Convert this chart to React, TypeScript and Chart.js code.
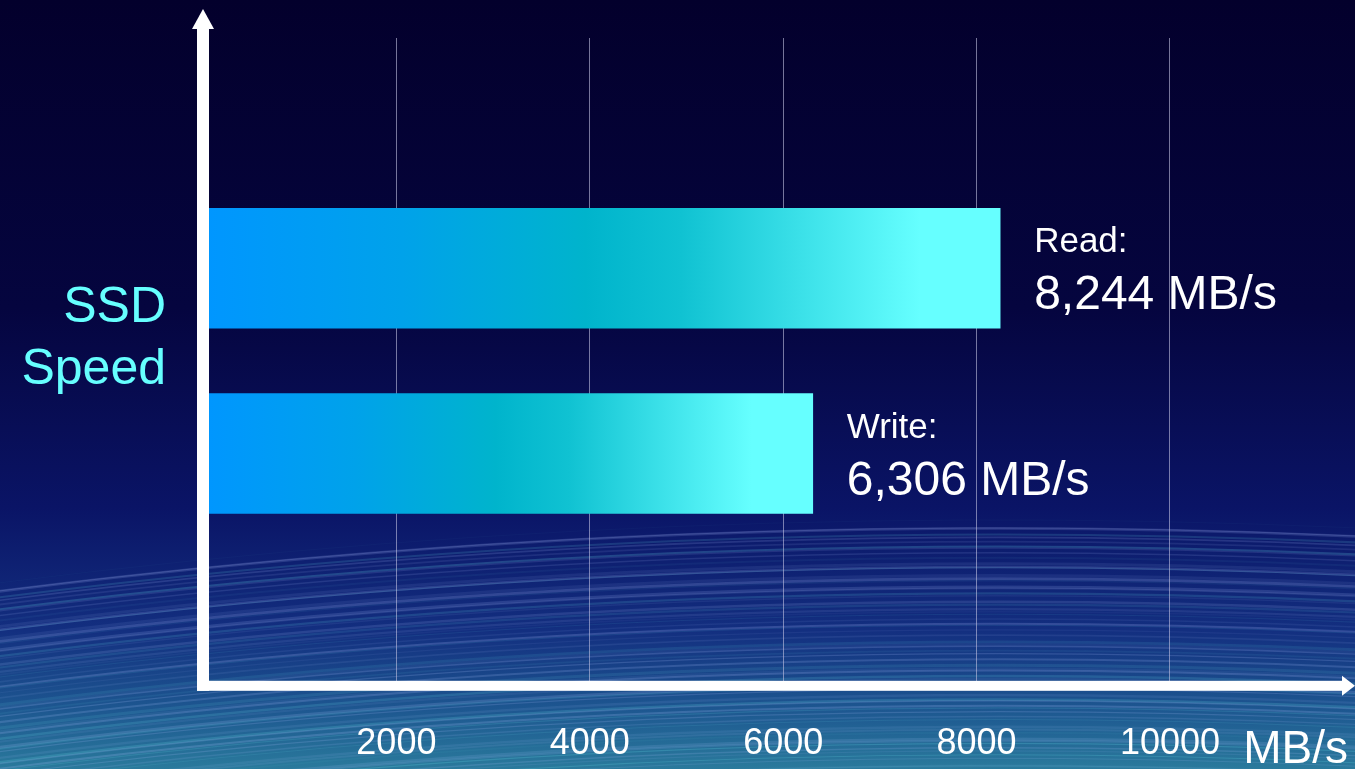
import React, { useEffect, useRef } from 'react';
import { Chart, registerables } from 'chart.js';

Chart.register(...registerables);

// ---- data ----
const CATEGORIES = ['Read', 'Write'];
const SPEEDS = [8244, 6306];
const X_TICKS = [2000, 4000, 6000, 8000, 10000];
const X_MIN = 0;
const X_MAX = 11800;
const UNIT = 'MB/s';
const Y_TITLE = ['SSD', 'Speed'];

const FONT = '"Liberation Sans", Arial, Helvetica, sans-serif';

const frac = (v: number) => v - Math.floor(v);

function drawBackground(ctx: CanvasRenderingContext2D, w: number, h: number) {
  const g = ctx.createLinearGradient(0, 0, 0, h);
  g.addColorStop(0, '#03002c');
  g.addColorStop(0.4, '#05053f');
  g.addColorStop(0.66, '#0a1466');
  g.addColorStop(0.82, '#132f80');
  g.addColorStop(0.92, '#1d5690');
  g.addColorStop(1, '#2a7a9c');
  ctx.fillStyle = g;
  ctx.fillRect(0, 0, w, h);

  const cx = 1000;
  const R = 8000;
  for (let i = 0; i < 70; i++) {
    const f1 = frac(Math.sin(i * 12.9898) * 43758.5453);
    const f2 = frac(Math.sin(i * 78.233) * 12345.678);
    const top = 520 + i * 3.9 + f1 * 5;
    const alpha = 0.04 + f2 * 0.18;
    ctx.strokeStyle = i % 3 === 0 ? `rgba(110,225,235,${alpha})` : `rgba(175,195,255,${alpha})`;
    ctx.lineWidth = 0.8 + f1 * 2.2;
    ctx.beginPath();
    ctx.arc(cx, top + R, R, -Math.PI / 2 - Math.asin(1100 / R), -Math.PI / 2 + Math.asin(450 / R));
    ctx.stroke();
  }
}

const decoPlugin = {
  id: 'deco',
  beforeDraw(chart: any) {
    const { ctx, width, height } = chart;
    ctx.save();
    drawBackground(ctx, width, height);
    ctx.restore();
  },
  afterDraw(chart: any) {
    const { ctx, chartArea: a } = chart;
    const x0 = a.left;
    const yb = a.bottom;
    ctx.save();
    ctx.fillStyle = '#ffffff';
    // vertical axis + arrow
    ctx.fillRect(x0 - 6, a.top - 9, 12, yb + 5 - (a.top - 9));
    ctx.beginPath();
    ctx.moveTo(x0, a.top - 29);
    ctx.lineTo(x0 + 11, a.top - 9);
    ctx.lineTo(x0 - 11, a.top - 9);
    ctx.closePath();
    ctx.fill();
    // horizontal axis + arrow
    ctx.fillRect(x0 - 6, yb - 5, a.right - 2 - (x0 - 6), 10);
    ctx.beginPath();
    ctx.moveTo(a.right + 11, yb);
    ctx.lineTo(a.right - 2, yb - 10);
    ctx.lineTo(a.right - 2, yb + 10);
    ctx.closePath();
    ctx.fill();

    // bar labels
    const meta = chart.getDatasetMeta(0);
    meta.data.forEach((el: any, i: number) => {
      const lx = el.x + 34;
      ctx.fillStyle = '#ffffff';
      ctx.textAlign = 'left';
      ctx.textBaseline = 'alphabetic';
      ctx.font = `35px ${FONT}`;
      ctx.fillText(CATEGORIES[i] + ':', lx, el.y - 16);
      ctx.font = `48px ${FONT}`;
      ctx.fillText(SPEEDS[i].toLocaleString('en-US') + ' ' + UNIT, lx, el.y + 41);
    });

    // y title
    ctx.fillStyle = '#66ffff';
    ctx.textAlign = 'right';
    ctx.textBaseline = 'alphabetic';
    ctx.font = `50px ${FONT}`;
    ctx.fillText(Y_TITLE[0], 166, 322);
    ctx.fillText(Y_TITLE[1], 166, 384);

    // unit
    ctx.fillStyle = '#ffffff';
    ctx.textAlign = 'right';
    ctx.font = `46px ${FONT}`;
    ctx.fillText(UNIT, 1348, 763);
    ctx.restore();
  },
};

function barGradient(c: any) {
  const chart = c.chart;
  const xs = chart.scales?.x;
  if (!chart.chartArea || !xs) return '#0099ff';
  const v = SPEEDS[c.dataIndex];
  const x0 = xs.getPixelForValue(0);
  const x1 = xs.getPixelForValue(v);
  const g = chart.ctx.createLinearGradient(x0, 0, x1, 0);
  g.addColorStop(0, '#0096ff');
  g.addColorStop(0.25, '#00a2ea');
  g.addColorStop(0.48, '#00b4cc');
  g.addColorStop(0.6, '#10c2d2');
  g.addColorStop(0.9, '#66ffff');
  g.addColorStop(1, '#66ffff');
  return g;
}

export default function App() {
  const ref = useRef<HTMLCanvasElement>(null);
  useEffect(() => {
    const chart = new Chart(ref.current as HTMLCanvasElement, {
      type: 'bar',
      data: {
        labels: CATEGORIES,
        datasets: [
          {
            label: 'SSD Speed',
            data: SPEEDS.map((v, i) => ({ x: v, y: i })) as any,
            backgroundColor: barGradient as any,
            borderWidth: 0,
            barThickness: 120,
          },
        ],
      },
      options: {
        indexAxis: 'y',
        animation: false,
        responsive: false,
        layout: { padding: { left: 203, right: 11, top: 38, bottom: -34 } },
        plugins: { legend: { display: false }, tooltip: { enabled: false } },
        scales: {
          x: {
            type: 'linear',
            min: X_MIN,
            max: X_MAX,
            afterBuildTicks: (axis: any) => {
              axis.ticks = X_TICKS.map((value) => ({ value }));
            },
            border: { display: false },
            grid: { color: 'rgba(195,195,225,0.6)', lineWidth: 1, drawTicks: false },
            ticks: {
              color: '#ffffff',
              font: { family: FONT, size: 36 },
              padding: 37,
              maxRotation: 0,
              callback: (v: any) => String(v),
            },
          },
          y: {
            type: 'linear',
            display: false,
            reverse: true,
            offset: false,
            min: -1.243,
            max: 2.254,
          },
        },
      },
      plugins: [decoPlugin],
    });
    return () => chart.destroy();
  }, []);
  return (
    <div style={{ position: 'absolute', left: 0, top: 0, width: 1355, height: 769, background: '#03002c', overflow: 'hidden' }}>
      <canvas ref={ref} width={1355} height={769} style={{ display: 'block', width: 1355, height: 769 }} />
    </div>
  );
}
